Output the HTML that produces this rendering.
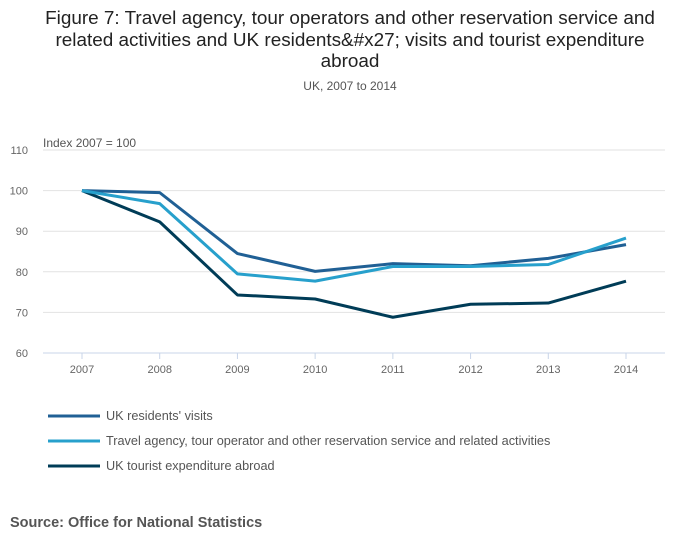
<!DOCTYPE html>
<html><head><meta charset="utf-8"><style>
body{margin:0;background:#fff;font-family:"Liberation Sans",sans-serif;}
</style></head><body>
<svg width="700" height="549" xmlns="http://www.w3.org/2000/svg">
<text x="350" y="24" text-anchor="middle" font-size="18.9" fill="#222">Figure 7: Travel agency, tour operators and other reservation service and</text>
<text x="350" y="46" text-anchor="middle" font-size="18.9" fill="#222">related activities and UK residents&amp;#x27; visits and tourist expenditure</text>
<text x="350" y="67" text-anchor="middle" font-size="18.9" fill="#222">abroad</text>
<text x="350" y="90" text-anchor="middle" font-size="12" fill="#555">UK, 2007 to 2014</text>
<text x="43" y="147" font-size="12" fill="#555">Index 2007 = 100</text>
<g id="grid"></g><g id="lines"></g>
<g id="legend"></g>
<text x="10" y="527" font-size="14.5" font-weight="bold" fill="#555">Source: Office for National Statistics</text>
</svg>
<script>
const years=["2007","2008","2009","2010","2011","2012","2013","2014"];
const yTicks=[60,70,80,90,100,110];
const residents=[100,99.5,84.5,80.1,82,81.5,83.3,86.7];
const travel=[100,96.8,79.5,77.7,81.3,81.3,81.8,88.3];
const expenditure=[100,92.3,74.3,73.3,68.8,72,72.3,77.7];
const seriesNames=["UK residents' visits","Travel agency, tour operator and other reservation service and related activities","UK tourist expenditure abroad"];
const NS="http://www.w3.org/2000/svg";
const x=i=>82+i*(626-82)/7;
const y=v=>353-(v-60)*(353-150)/50;
function mk(t,a,p){const e=document.createElementNS(NS,t);for(const k in a)e.setAttribute(k,a[k]);p.appendChild(e);return e;}
const g=document.getElementById('grid');
yTicks.forEach(v=>{
 const l=mk('line',{x1:43,x2:665,y1:y(v),y2:y(v),stroke:v==60?'#c8d4e8':'#e2e2e2','stroke-width':1},g);
 
 
 const t=mk('text',{x:28,y:y(v)+4,'text-anchor':'end','font-size':11,fill:'#666'},g);t.textContent=v;
 
 
});
years.forEach((yr,i)=>{
 const tk=mk('line',{x1:x(i),x2:x(i),y1:353,y2:359,stroke:'#c8d4e8'},g);
 
 
 const t=mk('text',{x:x(i),y:373,'text-anchor':'middle','font-size':11,fill:'#666'},g);t.textContent=yr;
 
 
});
const L=document.getElementById('lines');
const data=[residents,travel,expenditure];const cols=['#206095','#27a0cc','#003c57'];
const names=['line-residents-visits','line-travel-agency','line-tourist-expenditure'];
[2,0,1].forEach(s=>{
 const p=mk('polyline',{points:data[s].map((v,i)=>x(i)+','+y(v)).join(' '),fill:'none',stroke:cols[s],'stroke-width':3,'stroke-linejoin':'round'},L);
 
 
});
const lg=document.getElementById('legend');
seriesNames.forEach((n,s)=>{
 const yy=416+s*25;
 const grp=mk('g',{},lg);
 
 
 mk('line',{x1:48,x2:100,y1:yy,y2:yy,stroke:cols[s],'stroke-width':3},grp);
 const t=mk('text',{x:106,y:yy+4,'font-size':12.7,fill:'#555'},grp);t.textContent=n;
});
</script>
</body></html>
